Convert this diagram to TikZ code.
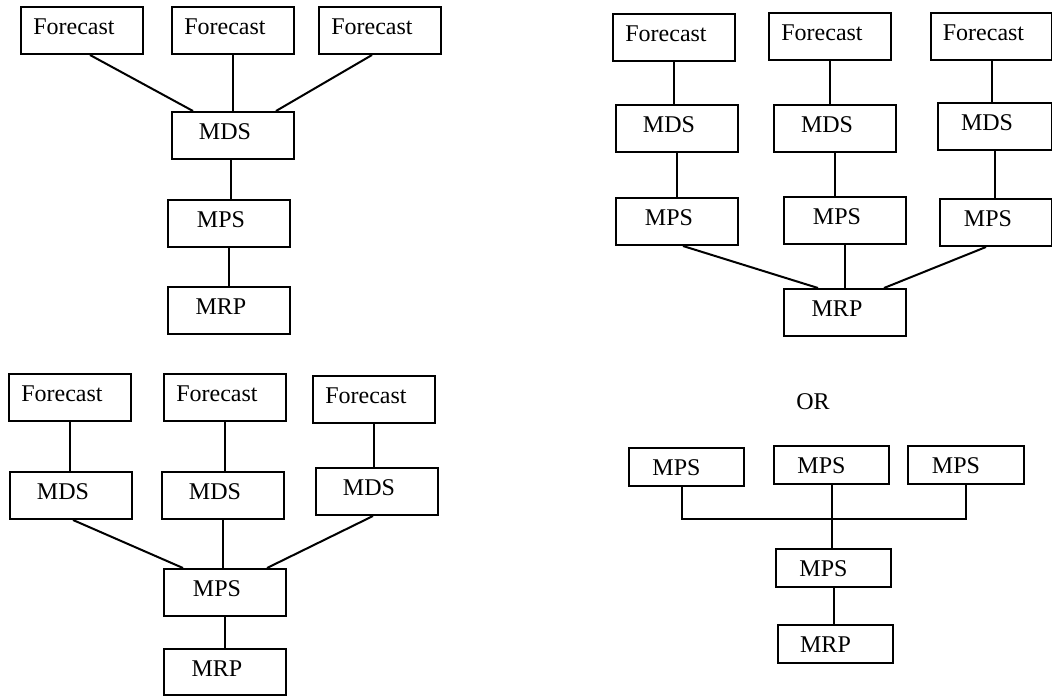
\documentclass[tikz,border=0pt]{standalone}
\usepackage{fontspec}
\setmainfont{Liberation Serif}
\usetikzlibrary{calc}

\begin{document}
\begin{tikzpicture}[x=1pt,y=-1pt,
  boxbase/.style={draw, line width=2pt, anchor=north west, inner sep=2pt,
    font=\fontsize{24}{28}\selectfont, text height=16pt},
  box/.style={boxbase, minimum width=122pt, minimum height=47pt, text depth=8pt,
    execute at end node={\hspace*{16pt}}},
  sbox/.style={boxbase, minimum width=115pt, minimum height=38pt, text depth=0pt,
    execute at end node={\hspace*{20pt}}},
  link/.style={line width=2pt}]
\useasboundingbox (0,0) rectangle (1052,696);
% one forecast per MDS, single MPS
\node[box] (fa1) at (20,6) {Forecast};
\node[box] (fa2) at (171,6) {Forecast};
\node[box] (fa3) at (318,6) {Forecast};
\node[box] (mdsa) at (171,111) {MDS};
\node[box] (mpsa) at (167,199) {MPS};
\node[box] (mrpa) at (167,286) {MRP};
\draw[link] ($(fa1.south)+(8,0)$) -- ($(mdsa.north west)+(22,0)$);
\draw[link] (fa2.south) -- (fa2.south |- mdsa.north);
\draw[link] ($(fa3.south)+(-8,0)$) -- ($(mdsa.north east)+(-19,0)$);
\draw[link] ($(mdsa.south)+(-2,0)$) -- ($(mdsa.south |- mpsa.north)+(-2,0)$);
\draw[link] (mpsa.south) -- (mrpa.north);
% three chains into one MRP
\node[box] (fb1) at (612,13) {Forecast};
\node[box] (fb2) at (768,12) {Forecast};
\node[box, minimum width=121pt] (fb3) at (930,12) {Forecast};
\node[box] (mdsb1) at (615,104) {MDS};
\node[box] (mdsb2) at (773,104) {MDS};
\node[box, minimum width=114pt] (mdsb3) at (937,102) {MDS};
\node[box] (mpsb1) at (615,197) {MPS};
\node[box] (mpsb2) at (783,196) {MPS};
\node[box, minimum width=112pt] (mpsb3) at (939,198) {MPS};
\node[box] (mrpb) at (783,288) {MRP};
\draw[link] (fb1.south) -- (fb1.south |- mdsb1.north);
\draw[link] (fb2.south) -- (fb2.south |- mdsb2.north);
\draw[link] (fb3.south) -- (fb3.south |- mdsb3.north);
\draw[link] (mdsb1.south) -- (mdsb1.south |- mpsb1.north);
\draw[link] (mdsb2.south) -- (mdsb2.south |- mpsb2.north);
\draw[link] (mdsb3.south) -- (mdsb3.south |- mpsb3.north);
\draw[link] ($(mpsb1.south)+(6,0)$) -- ($(mrpb.north west)+(35,0)$);
\draw[link] (mpsb2.south) -- (mrpb.north);
\draw[link] ($(mpsb3.south west)+(47,0)$) -- ($(mrpb.north east)+(-23,0)$);
% three MDS into one MPS
\node[box] (fc1) at (8,373) {Forecast};
\node[box] (fc2) at (163,373) {Forecast};
\node[box] (fc3) at (312,375) {Forecast};
\node[box] (mdsc1) at (9,471) {MDS};
\node[box] (mdsc2) at (161,471) {MDS};
\node[box] (mdsc3) at (315,467) {MDS};
\node[box] (mpsc) at (163,568) {MPS};
\node[box, minimum height=46pt] (mrpc) at (163,648) {MRP};
\draw[link] (fc1.south) -- (fc1.south |- mdsc1.north);
\draw[link] (fc2.south) -- (fc2.south |- mdsc2.north);
\draw[link] (fc3.south) -- (fc3.south |- mdsc3.north);
\draw[link] ($(mdsc1.south)+(2,0)$) -- ($(mpsc.north west)+(20,0)$);
\draw[link] (mdsc2.south) -- (mdsc2.south |- mpsc.north);
\draw[link] ($(mdsc3.south)+(-4,0)$) -- ($(mpsc.north east)+(-20,0)$);
\draw[link] (mpsc.south) -- (mrpc.north);
% alternative
\node[font=\fontsize{24}{28}\selectfont] (or) at (813,402) {OR};
\node[sbox] (pd1) at (628,447) {MPS};
\node[sbox] (pd2) at (773,445) {MPS};
\node[sbox, minimum width=116pt] (pd3) at (907,445) {MPS};
\node[sbox] (pd4) at (775,548) {MPS};
\node[sbox] (mrpd) at (777,624) {MRP};
\coordinate (bus) at ($(pd2.south)+(0,34)$);
\draw[link] ($(pd1.south)+(-5,0)$) |- (bus) -| (pd3.south);
\draw[link] (pd2.south) -- (pd2.south |- pd4.north);
\draw[link] (pd4.south) -- (pd4.south |- mrpd.north);
\end{tikzpicture}
\end{document}
